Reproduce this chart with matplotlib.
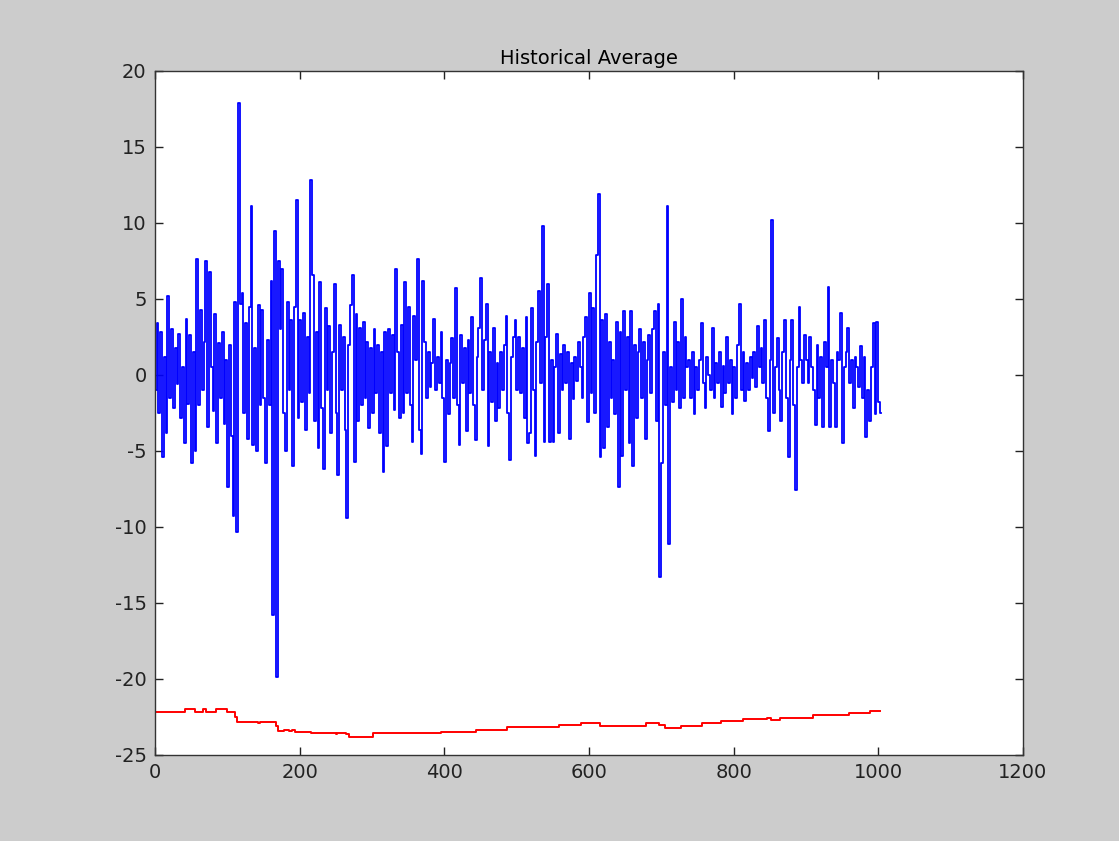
import matplotlib
matplotlib.use('Agg')
import matplotlib.pyplot as plt
import numpy as np

# Blue series: values, one every 2.5 samples (x = 1 .. 1003.5)
series = [
    -1.0, 3.4, -2.5, 2.8, -5.4, 1.2, -3.8, 5.2, -1.5, 3.0, -2.2, 1.8, -0.6, 2.7, -2.8, 0.5, -4.5, 3.7, -1.9, 2.6,
    -5.8, 1.5, -5.0, 7.6, -2.0, 4.3, -1.0, 2.2, 7.5, -3.4, 6.8, 0.5, -2.4, 4.0, -4.5, 2.1, -1.5, 2.8, -3.2, 1.0,
    -7.4, 2.0, -4.0, -9.3, 4.8, -10.3, 17.9, 4.7, 5.4, -2.5, 3.4, -4.2, 4.5, 11.1, -4.6, 1.8, -5.0, 4.6, -2.0, 4.3,
    -1.5, -5.8, 2.3, -2.0, 6.2, -15.8, 9.5, -19.9, 7.5, 3.0, 7.0, -2.5, -5.0, 4.8, -1.0, 3.6, -6.0, 4.5, 11.5, -2.8,
    3.6, -1.8, 4.1, -3.6, 2.5, -1.2, 12.8, 6.6, -3.0, 2.8, -4.8, 6.1, -2.2, -6.2, 4.4, -1.0, 3.2, -3.8, 1.5, 6.0,
    -2.5, -6.6, 3.3, -1.0, 2.5, -3.6, -9.4, 2.0, 4.6, 6.6, -5.7, 4.0, -3.0, 3.1, -2.0, 3.5, -1.5, 2.2, -3.5, 1.8,
    -2.5, 3.0, -1.2, 2.0, -3.8, 1.5, -6.4, 2.8, -4.7, 3.0, -1.2, 2.6, -2.3, 7.0, 1.5, -2.8, 3.3, -2.5, 6.1, -1.2,
    4.5, -2.0, -4.4, 3.9, 1.0, 7.6, -3.6, -5.2, 6.2, 2.2, -1.5, 1.5, -0.8, 0.8, 3.7, -1.0, 1.2, -0.5, 2.8, -1.5,
    -5.7, 1.0, -2.6, 0.8, 2.4, -1.5, 5.7, -2.0, -4.6, 2.6, -0.5, 1.8, -3.7, 2.3, -1.2, 3.8, -2.0, -4.3, 1.2, 3.1,
    6.4, -1.0, 2.3, 4.7, -4.7, 1.5, -1.8, 3.1, -3.0, 0.8, -2.2, 1.5, -1.0, 2.0, 3.9, -2.5, -5.6, 1.2, 2.5, 3.6,
    -1.0, 2.5, -1.2, 1.8, -2.8, 3.8, -4.5, -3.8, 4.4, -1.0, -5.3, 2.2, 5.5, -0.5, 9.8, -4.4, 2.5, 6.0, -4.4, 1.0,
    -4.4, 0.5, 2.7, -3.8, 1.4, -1.0, 2.0, -0.5, 1.5, -4.2, 0.8, -1.6, 1.2, -0.4, 2.2, 0.5, -1.5, 2.5, 3.8, -3.1,
    5.4, -1.2, 4.4, -2.5, 7.9, 11.9, -5.4, 3.6, -4.8, 4.0, -3.4, 2.2, -1.5, 1.0, -2.6, 3.5, -7.4, 2.8, -5.3, 4.2,
    -1.0, 2.5, -4.5, 4.2, -6.0, 2.0, -2.8, 1.5, 3.0, -1.5, 2.2, -4.2, 1.0, 2.6, -1.2, 3.0, 4.2, -3.0, 4.7, -13.3,
    -5.8, 1.5, -2.0, 11.1, -11.1, 0.5, -1.8, 3.5, -1.0, 2.2, -2.2, 5.0, -1.5, 2.5, 0.5, 1.0, -1.5, 1.5, -2.6, 0.5,
    -1.0, 1.0, 3.4, -0.5, -2.2, 1.2, 0.0, -1.0, 3.1, -1.5, 0.8, -0.5, 1.5, -2.1, 0.6, -1.2, 2.5, -0.5, 1.0, -2.6,
    0.5, -1.5, 2.0, 4.7, -1.0, 1.5, -1.7, 0.8, -1.0, 1.2, -0.2, 1.5, -0.8, 3.2, 0.5, 1.8, -0.5, 3.6, -1.5, -3.7,
    1.0, 10.2, -2.5, 0.5, 2.4, -1.0, -3.0, 1.5, 3.6, -1.5, -5.4, 1.0, 3.6, -2.0, -7.6, 0.5, 4.5, 1.0, -0.5, 2.6,
    1.0, -0.5, 2.5, 0.5, -1.0, -3.3, 2.0, -1.5, 1.2, -3.4, 2.2, 0.5, 5.8, -3.4, 1.0, -0.5, -3.4, 1.5, 1.0, 4.1,
    -4.5, 0.5, 1.5, 3.1, -0.5, 1.0, -2.2, 1.2, 0.5, -0.8, 1.9, -1.5, 1.2, -4.1, -1.0, -3.0, 0.5, 3.4, -2.6, 3.5,
    -1.8, -2.5,
]
series_step = 2.5

# Red historical average: change points (x) and levels
avg_x = [1, 42, 56, 66, 70, 84, 100, 110, 113, 142, 145, 167, 170, 179, 185, 190, 193,
         216, 250, 252, 264, 268, 301, 396, 399, 444, 486, 559, 589, 615, 679, 697,
         705, 727, 729, 756, 783, 813, 846, 852, 864, 910, 959, 989, 1003]
avg_y = [-22.15, -22.0, -22.15, -22.0, -22.15, -22.0, -22.15, -22.5, -22.8, -22.9, -22.8,
         -23.1, -23.45, -23.35, -23.45, -23.35, -23.46, -23.58, -23.65, -23.58, -23.65,
         -23.8, -23.58, -23.5, -23.46, -23.35, -23.18, -23.03, -22.88, -23.07, -22.88,
         -23.0, -23.2, -23.1, -23.07, -22.88, -22.77, -22.66, -22.55, -22.7, -22.55,
         -22.35, -22.25, -22.14, -22.14]

x = 1 + series_step * np.arange(len(series))

plt.rcParams['font.family'] = 'DejaVu Sans'
plt.rcParams['axes.unicode_minus'] = False

fig = plt.figure(figsize=(11.19, 8.41), dpi=100, facecolor='#cccccc')
ax = fig.add_axes([0.1385, 0.1023, 0.7757, 0.8133])
ax.set_facecolor('white')

ax.plot(x, series, color='#0000ff', linewidth=1.3, drawstyle='steps-mid')
ax.plot(avg_x, avg_y, color='#ff0000', linewidth=1.4, drawstyle='steps-post')

ax.set_xlim(0, 1200)
ax.set_ylim(-25, 20)
ax.set_xticks(np.arange(0, 1201, 200))
ax.set_yticks(np.arange(-25, 21, 5))

ax.tick_params(direction='in', length=6, width=1, top=True, right=True,
               labelsize=14, pad=6, colors='#222222')
for s in ax.spines.values():
    s.set_linewidth(1)
    s.set_color('#333333')

ax.set_title('Historical Average', fontsize=14, pad=5)

fig.savefig('out.png', dpi=100, facecolor=fig.get_facecolor())
